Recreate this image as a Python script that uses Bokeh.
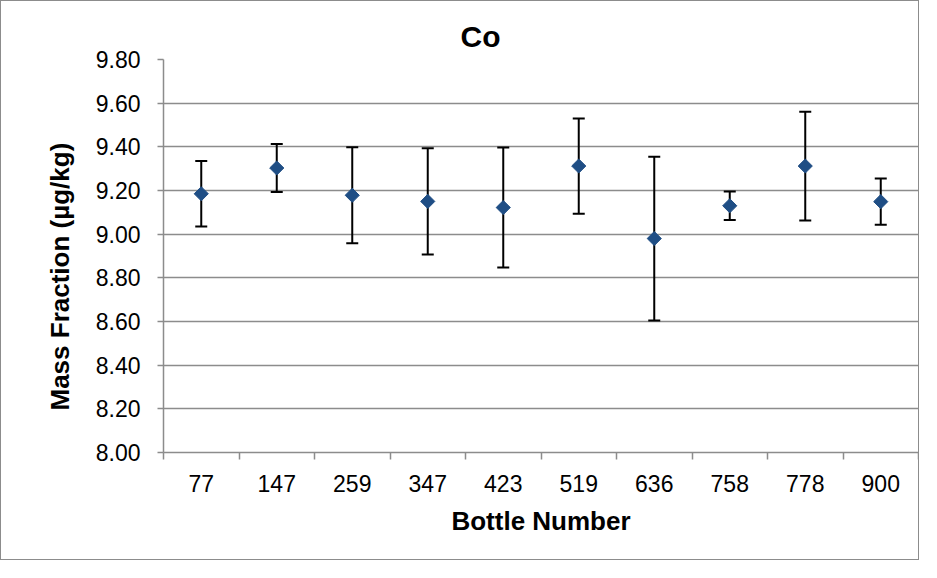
import math
from bokeh.plotting import figure
from bokeh.models import Range1d, FixedTicker, NumeralTickFormatter, Title, ColumnDataSource
from bokeh.embed import file_html
from bokeh.resources import INLINE

# ---- data ----
bottles = ["77", "147", "259", "347", "423", "519", "636", "758", "778", "900"]
mass_fraction = [9.185, 9.303, 9.178, 9.150, 9.122, 9.312, 8.980, 9.130, 9.312, 9.149]
uncertainty = [0.150, 0.110, 0.220, 0.243, 0.275, 0.218, 0.375, 0.065, 0.249, 0.106]
y_ticks = [8.00, 8.20, 8.40, 8.60, 8.80, 9.00, 9.20, 9.40, 9.60, 9.80]

FONT = "Liberation Sans"
GRID = "#8c8c8c"

xs = [i + 0.5 for i in range(len(bottles))]
src = ColumnDataSource(dict(
    x=xs,
    y=mass_fraction,
    upper=[m + u for m, u in zip(mass_fraction, uncertainty)],
    lower=[m - u for m, u in zip(mass_fraction, uncertainty)],
))

p = figure(width=919, height=560,
           x_range=Range1d(0, len(bottles)), y_range=Range1d(y_ticks[0], y_ticks[-1]),
           output_backend="svg", toolbar_location=None,
           min_border_left=162, min_border_right=2,
           min_border_top=58, min_border_bottom=109)
p.styles = {"border": "1px solid #8c8c8c"}
p.outline_line_color = None
p.background_fill_color = "white"
p.border_fill_color = "white"

# chart title
p.title.text = "Co"
p.title.align = "left"
p.title.offset = 297
p.title.text_font = FONT
p.title.text_font_style = "bold"
p.title.text_font_size = "30px"
p.title.text_color = "black"
p.title.standoff = 13

# y-axis title (as a left-side title so it can be shifted along the axis)
p.add_layout(Title(text="Mass Fraction (µg/kg)", align="left", offset=42, standoff=35,
                   text_font=FONT, text_font_style="bold", text_font_size="26px",
                   text_color="black"), "left")

# grid
p.xgrid.visible = False
p.ygrid.ticker = FixedTicker(ticks=y_ticks)
p.ygrid.grid_line_color = GRID
p.ygrid.grid_line_width = 1.5

# x axis: labels at centres, tick marks at category boundaries
xa = p.xaxis[0]
xa.ticker = FixedTicker(ticks=xs, minor_ticks=list(range(len(bottles) + 1)))
xa.major_label_overrides = {x: b for x, b in zip(xs, bottles)}
xa.major_tick_out = 0
xa.major_tick_in = 0
xa.minor_tick_out = 7
xa.minor_tick_in = 0
xa.minor_tick_line_color = GRID
xa.minor_tick_line_width = 1.5
xa.axis_line_color = GRID
xa.axis_line_width = 1.5
xa.major_label_text_font = FONT
xa.major_label_text_font_size = "23px"
xa.major_label_text_color = "black"
xa.major_label_standoff = 15
xa.axis_label = "Bottle Number"
xa.axis_label_text_font = FONT
xa.axis_label_text_font_style = "bold"
xa.axis_label_text_font_size = "26px"
xa.axis_label_text_color = "black"
xa.axis_label_standoff = 11

# y axis
ya = p.yaxis[0]
ya.ticker = FixedTicker(ticks=y_ticks)
ya.formatter = NumeralTickFormatter(format="0.00")
ya.major_tick_out = 6
ya.major_tick_in = 0
ya.minor_tick_line_color = None
ya.major_tick_line_color = GRID
ya.major_tick_line_width = 1.5
ya.axis_line_color = GRID
ya.axis_line_width = 1.5
ya.major_label_text_font = FONT
ya.major_label_text_font_size = "23px"
ya.major_label_text_color = "black"
ya.major_label_standoff = 17

# error bars (drawn first, so the markers sit on top)
p.segment(x0="x", y0="lower", x1="x", y1="upper", source=src, line_color="black", line_width=2)
p.scatter(x="x", y="upper", source=src, marker="dash", size=12, line_color="black", line_width=2)
p.scatter(x="x", y="lower", source=src, marker="dash", size=12, line_color="black", line_width=2)

# data points (diamonds)
p.scatter(x="x", y="y", source=src, marker="square", angle=math.pi / 4, size=10,
          fill_color="#1f4e85", line_color="#1f4e85")

open("out.html", "w").write(file_html(p, INLINE))
